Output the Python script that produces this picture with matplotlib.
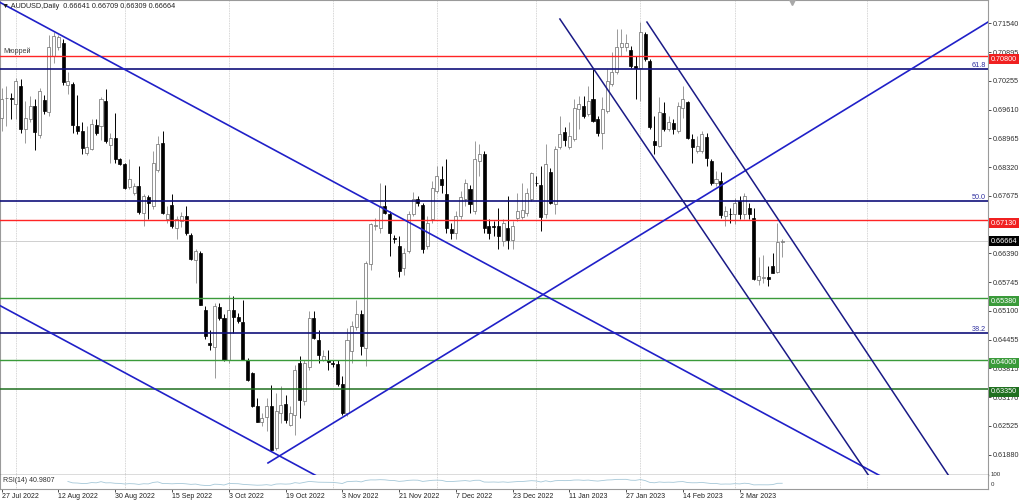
import numpy as np
import pandas as pd
import matplotlib
matplotlib.use("Agg")
import matplotlib.pyplot as plt
import matplotlib.transforms as mtransforms

plt.rcParams['font.family'] = ['Liberation Sans', 'DejaVu Sans']

# --- AUDUSD daily bars (one value per bar) ---
opens = [0.6943, 0.6986, 0.6986, 0.6973, 0.7014, 0.6917, 0.6939, 0.6968, 0.6903, 0.6982,
         0.6956, 0.7081, 0.7100, 0.7111, 0.7017, 0.7018, 0.6924, 0.6912, 0.6863, 0.6873,
         0.6927, 0.6924, 0.6980, 0.6881, 0.6898, 0.6850, 0.6838, 0.6788, 0.6775, 0.6790,
         0.6730, 0.6765, 0.6745, 0.6826, 0.6885, 0.6715, 0.6746, 0.6696, 0.6711, 0.6722,
         0.6681, 0.6625, 0.6640, 0.6513, 0.6438, 0.6430, 0.6519, 0.6493, 0.6401, 0.6511,
         0.6496, 0.6484, 0.6401, 0.6371, 0.6296, 0.6262, 0.6273, 0.6296, 0.6202, 0.6281,
         0.6302, 0.6255, 0.6277, 0.6393, 0.6307, 0.6384, 0.6494, 0.6444, 0.6401, 0.6399,
         0.6393, 0.6391, 0.6347, 0.6281, 0.6420, 0.6474, 0.6502, 0.6427, 0.6614, 0.6700,
         0.6696, 0.6745, 0.6726, 0.6674, 0.6655, 0.6605, 0.6644, 0.6726, 0.6760, 0.6748,
         0.6655, 0.6715, 0.6778, 0.6805, 0.6771, 0.6694, 0.6685, 0.6722, 0.6760, 0.6784,
         0.6734, 0.6846, 0.6861, 0.6700, 0.6700, 0.6700, 0.6666, 0.6696, 0.6668, 0.6719,
         0.6721, 0.6730, 0.6760, 0.6797, 0.6793, 0.6726, 0.6821, 0.6749, 0.6876, 0.6911,
         0.6878, 0.6894, 0.6962, 0.6968, 0.6951, 0.6984, 0.6939, 0.6909, 0.6958, 0.7018,
         0.7044, 0.7100, 0.7100, 0.7095, 0.7059, 0.7053, 0.7130, 0.7070, 0.6891, 0.6879,
         0.6953, 0.6918, 0.6930, 0.6913, 0.6965, 0.6977, 0.6894, 0.6868, 0.6868, 0.6900,
         0.6846, 0.6796, 0.6801, 0.6722, 0.6728, 0.6726, 0.6756, 0.6728, 0.6741, 0.6719,
         0.6580, 0.6583, 0.6585, 0.6610, 0.6597, 0.66641]
highs = [0.7010, 0.7014, 0.6998, 0.7031, 0.7029, 0.6980, 0.6992, 0.6984, 0.7010, 0.6993,
         0.7128, 0.7134, 0.7128, 0.7119, 0.7044, 0.7022, 0.6993, 0.6932, 0.6924, 0.6939,
         0.6939, 0.6988, 0.7007, 0.6909, 0.6954, 0.6853, 0.6842, 0.6850, 0.6797, 0.6835,
         0.6771, 0.6769, 0.6868, 0.6902, 0.6913, 0.6745, 0.6771, 0.6722, 0.6731, 0.6745,
         0.6685, 0.6648, 0.6644, 0.6520, 0.6468, 0.6528, 0.6528, 0.6502, 0.6545, 0.6543,
         0.6505, 0.6535, 0.6404, 0.6374, 0.6315, 0.6281, 0.6315, 0.6345, 0.6326, 0.6341,
         0.6322, 0.6296, 0.6389, 0.6408, 0.6401, 0.6509, 0.6509, 0.6468, 0.6423, 0.6423,
         0.6401, 0.6401, 0.6363, 0.6472, 0.6487, 0.6535, 0.6513, 0.6621, 0.6707, 0.6718,
         0.6797, 0.6793, 0.6733, 0.6679, 0.6678, 0.6650, 0.6734, 0.6776, 0.6767, 0.6752,
         0.6722, 0.6801, 0.6835, 0.6835, 0.6850, 0.6707, 0.6734, 0.6778, 0.6805, 0.6793,
         0.6891, 0.6883, 0.6868, 0.6715, 0.6711, 0.6741, 0.6715, 0.6767, 0.6711, 0.6775,
         0.6797, 0.6786, 0.6820, 0.6812, 0.6835, 0.6883, 0.6831, 0.6880, 0.6947, 0.6921,
         0.6932, 0.6984, 0.6992, 0.6992, 0.7014, 0.7051, 0.6947, 0.6988, 0.7051, 0.7089,
         0.7141, 0.7141, 0.7130, 0.7104, 0.7081, 0.7156, 0.7134, 0.7074, 0.6947, 0.6988,
         0.6977, 0.6947, 0.6939, 0.6977, 0.7014, 0.6980, 0.6906, 0.6902, 0.6913, 0.6909,
         0.6850, 0.6823, 0.6820, 0.6745, 0.6741, 0.6763, 0.6767, 0.6775, 0.6752, 0.6741,
         0.6631, 0.6636, 0.6610, 0.6640, 0.6707, 0.66709]
lows = [0.6913, 0.6924, 0.6939, 0.6939, 0.6909, 0.6885, 0.6932, 0.6870, 0.6897, 0.6950,
        0.6947, 0.7066, 0.7095, 0.7017, 0.6995, 0.6909, 0.6906, 0.6861, 0.6858, 0.6870,
        0.6903, 0.6893, 0.6887, 0.6842, 0.6841, 0.6836, 0.6782, 0.6782, 0.6770, 0.6728,
        0.6700, 0.6715, 0.6739, 0.6820, 0.6726, 0.6706, 0.6696, 0.6670, 0.6698, 0.6681,
        0.6624, 0.6573, 0.6522, 0.6447, 0.6423, 0.6359, 0.6490, 0.6397, 0.6393, 0.6460,
        0.6483, 0.6399, 0.6352, 0.6294, 0.6260, 0.6251, 0.6240, 0.6195, 0.6199, 0.6258,
        0.6258, 0.6251, 0.6232, 0.6270, 0.6300, 0.6378, 0.6447, 0.6393, 0.6397, 0.6378,
        0.6384, 0.6341, 0.6277, 0.6275, 0.6393, 0.6468, 0.6412, 0.6386, 0.6602, 0.6692,
        0.6685, 0.6726, 0.6632, 0.6662, 0.6585, 0.6590, 0.6640, 0.6722, 0.6745, 0.6640,
        0.6648, 0.6707, 0.6775, 0.6775, 0.6685, 0.6670, 0.6670, 0.6715, 0.6745, 0.6730,
        0.6726, 0.6812, 0.6685, 0.6670, 0.6677, 0.6648, 0.6655, 0.6648, 0.6648, 0.6711,
        0.6715, 0.6722, 0.6756, 0.6790, 0.6689, 0.6719, 0.6749, 0.6726, 0.6872, 0.6879,
        0.6872, 0.6891, 0.6917, 0.6943, 0.6947, 0.6932, 0.6902, 0.6872, 0.6954, 0.7014,
        0.7040, 0.7081, 0.7093, 0.7055, 0.6984, 0.6980, 0.7070, 0.6917, 0.6861, 0.6878,
        0.6913, 0.6913, 0.6906, 0.6909, 0.6943, 0.6894, 0.6842, 0.6864, 0.6864, 0.6835,
        0.6793, 0.6790, 0.6719, 0.6700, 0.6707, 0.6704, 0.6715, 0.6715, 0.6715, 0.6580,
        0.6569, 0.6573, 0.6565, 0.6594, 0.6594, 0.66309]
closes = [0.6984, 0.6987, 0.6984, 0.7024, 0.6917, 0.6943, 0.6968, 0.6911, 0.7003, 0.6958,
          0.7102, 0.7126, 0.7123, 0.7022, 0.7025, 0.6926, 0.6912, 0.6874, 0.6876, 0.6928,
          0.6909, 0.6984, 0.6891, 0.6898, 0.6851, 0.6840, 0.6786, 0.6806, 0.6790, 0.6731,
          0.6767, 0.6751, 0.6842, 0.6883, 0.6730, 0.6726, 0.6700, 0.6716, 0.6722, 0.6685,
          0.6627, 0.6644, 0.6524, 0.6453, 0.6433, 0.6520, 0.6494, 0.6401, 0.6513, 0.6496,
          0.6487, 0.6401, 0.6356, 0.6296, 0.6262, 0.6270, 0.6296, 0.6199, 0.6285, 0.6300,
          0.6266, 0.6281, 0.6378, 0.6311, 0.6393, 0.6494, 0.6449, 0.6412, 0.6408, 0.6395,
          0.6392, 0.6347, 0.6281, 0.6445, 0.6476, 0.6502, 0.6431, 0.6617, 0.6705, 0.6702,
          0.6745, 0.6730, 0.6685, 0.6672, 0.6600, 0.6640, 0.6726, 0.6761, 0.6752, 0.6648,
          0.6707, 0.6786, 0.6812, 0.6793, 0.6696, 0.6685, 0.6722, 0.6764, 0.6796, 0.6749,
          0.6850, 0.6861, 0.6696, 0.6685, 0.6698, 0.6677, 0.6706, 0.6668, 0.6701, 0.6734,
          0.6737, 0.6775, 0.6818, 0.6796, 0.6721, 0.6838, 0.6752, 0.6872, 0.6906, 0.6893,
          0.6902, 0.6965, 0.6973, 0.6947, 0.6980, 0.6936, 0.6909, 0.6963, 0.7025, 0.7044,
          0.7100, 0.7111, 0.7110, 0.7059, 0.7053, 0.7135, 0.7075, 0.6921, 0.6881, 0.6956,
          0.6918, 0.6933, 0.6917, 0.6968, 0.6984, 0.6898, 0.6877, 0.6879, 0.6906, 0.6853,
          0.6797, 0.6806, 0.6724, 0.6734, 0.6727, 0.6752, 0.6726, 0.6767, 0.6728, 0.6582,
          0.6588, 0.6586, 0.6582, 0.6595, 0.6664, 0.66664]

# x axis: bar index of each date label, month grid lines
date_ticks = [0, 12, 24, 36, 48, 60, 72, 84, 96, 108, 120, 132, 144, 156]
date_labels = ["27 Jul 2022", "12 Aug 2022", "30 Aug 2022", "15 Sep 2022", "3 Oct 2022",
               "19 Oct 2022", "3 Nov 2022", "21 Nov 2022", "7 Dec 2022", "23 Dec 2022",
               "11 Jan 2023", "27 Jan 2023", "14 Feb 2023", "2 Mar 2023"]
month_grid = [3, 26, 48, 70, 92, 113, 135, 155, 183]

# price scale
price_ticks = [0.71540, 0.70895, 0.70255, 0.69610, 0.68965, 0.68320, 0.67675, 0.66390,
               0.65745, 0.65100, 0.64455, 0.63815, 0.63170, 0.62525, 0.61880]

# horizontal levels
red_levels = [0.70800, 0.67130]
green_levels = [0.65380, 0.64000]
dark_green_levels = [0.63350]
fibo_levels = [0.70514, 0.67558, 0.64604]
fibo_names = ["61.8", "50.0", "38.2"]
last_price = 0.66664

# trend lines as (bar, price) end points
blue_lines = [[(-0.35, 0.72009), (185.7, 0.61405)],
              [(-0.35, 0.65217), (66.3, 0.61418)],
              [(56.3, 0.61693), (208.5, 0.71569)]]
navy_lines = [[(118.0, 0.71637), (183.2, 0.61423)],
              [(136.4, 0.71569), (200.1, 0.61423)]]

# --- figure ---
W, H = 1024, 501
fig = plt.figure(figsize=(W / 100, H / 100), dpi=100)
ax = fig.add_axes([0, 26 / H, 988 / W, 475 / H])
rsi_ax = fig.add_axes([0, 12 / H, 988 / W, 14 / H], sharex=ax)

o = np.array(opens); h = np.array(highs); l = np.array(lows); c = np.array(closes)
x = np.arange(len(o))
up = c >= o
body_low = np.minimum(o, c)
body_h = np.maximum(np.abs(c - o), 0.00007)

for g in month_grid:
    ax.axvline(g, color='#c8c8c8', lw=0.6, ls=(0, (1, 1)), zorder=0)
    rsi_ax.axvline(g, color='#c8c8c8', lw=0.6, ls=(0, (1, 1)), zorder=0)

ax.axhline(last_price, color='#c8c8c8', lw=0.6, zorder=1)

# candles
ax.vlines(x[up], l[up], h[up], color='#8a8a8a', lw=0.6, zorder=2)
ax.vlines(x[~up], l[~up], h[~up], color='black', lw=0.7, zorder=2)
ax.bar(x[up], body_h[up], bottom=body_low[up], width=0.64, color='white',
       edgecolor='#6a6a6a', linewidth=0.5, zorder=3)
ax.bar(x[~up], body_h[~up], bottom=body_low[~up], width=0.64, color='black',
       edgecolor='black', linewidth=0.5, zorder=3)

# horizontal lines
for p in red_levels:
    ax.axhline(p, color='#ff2424', lw=1.0, zorder=4)
for p in green_levels:
    ax.axhline(p, color='#3a9a3a', lw=1.0, zorder=4)
for p in dark_green_levels:
    ax.axhline(p, color='#1f6f1f', lw=1.1, zorder=4)
for p in fibo_levels:
    ax.axhline(p, color='#10107a', lw=1.2, zorder=4)

for (x0, y0), (x1, y1) in blue_lines:
    ax.plot([x0, x1], [y0, y1], color='#2020c8', lw=1.2, zorder=5)
for (x0, y0), (x1, y1) in navy_lines:
    ax.plot([x0, x1], [y0, y1], color='#1a1a86', lw=1.1, zorder=5)

ax.set_xlim(-0.353, 208.5)
ax.set_ylim(0.61423, 0.72063)

# right price axis
ax.yaxis.tick_right()
ax.set_yticks(price_ticks)
ax.set_yticklabels([f"{p:.5f}" for p in price_ticks])
ax.tick_params(axis='y', length=2, width=0.6, pad=1.5, labelsize=5.2,
               colors='#303030', labelcolor='#303030')
ax.tick_params(axis='x', bottom=False, labelbottom=False)
for s in ax.spines.values():
    s.set_color('#9a9a9a')
    s.set_linewidth(0.8)
ax.spines['bottom'].set_color('#505050')
ax.spines['bottom'].set_linewidth(1.0)

trans = mtransforms.blended_transform_factory(ax.transAxes, ax.transData)
box_x = 991 / 988
box_shift = 0.00065


def price_box(p, txt, fc, shift):
    ax.text(box_x, p - shift, txt, transform=trans, ha='left', va='center',
            fontsize=5.2, color='white', clip_on=False, zorder=10,
            bbox=dict(boxstyle='square,pad=0.22', fc=fc, ec='none'))


for p in red_levels:
    price_box(p, f"{p:.5f}", '#f02020', box_shift)
for p in green_levels:
    price_box(p, f"{p:.5f}", '#3a9a3a', box_shift)
for p in dark_green_levels:
    price_box(p, f"{p:.5f}", '#1f6f1f', box_shift)
price_box(last_price, f"{last_price:.5f}", '#000000', 0)

for p, name in zip(fibo_levels, fibo_names):
    ax.text(986 / 988, p + 0.0001, name, transform=trans, ha='right', va='bottom',
            fontsize=5.2, color='#3030a0', zorder=6)

ax.text(3 / 988, red_levels[0] + 0.0003, "Мюррей", transform=trans, ha='left',
        va='bottom', fontsize=5.2, color='#404040', zorder=6)
ax.text(2 / 988, 1 - 6 / 475, "▼ AUDUSD,Daily  0.66641 0.66709 0.66309 0.66664",
        transform=ax.transAxes, ha='left', va='center', fontsize=5.2, color='#202020',
        zorder=6)
ax.plot([167.0], [1 - 2 / 475], marker='v', ms=4, color='#a8a8a8',
        transform=mtransforms.blended_transform_factory(ax.transData, ax.transAxes),
        clip_on=False, zorder=6)

# RSI(14) sub window
cs = pd.Series(c)
d = cs.diff()
gain = d.clip(lower=0).ewm(alpha=1 / 14, adjust=False, min_periods=14).mean()
loss = (-d.clip(upper=0)).ewm(alpha=1 / 14, adjust=False, min_periods=14).mean()
rsi = 100 - 100 / (1 + gain / loss)
rsi_ax.plot(x, rsi.values, color='#a6c8d8', lw=0.6)
rsi_ax.set_ylim(0, 100)
rsi_ax.set_yticks([])
rsi_ax.text(3 / 988, 0.62, "RSI(14) 40.9807", transform=rsi_ax.transAxes, ha='left',
            va='center', fontsize=5.0, color='#303030')
rsi_ax.text(991 / 988, 1.02, "100", transform=rsi_ax.transAxes, ha='left', va='center',
            fontsize=4.4, color='#303030', clip_on=False)
rsi_ax.text(991 / 988, 0.30, "0", transform=rsi_ax.transAxes, ha='left', va='center',
            fontsize=4.4, color='#303030', clip_on=False)
for s in rsi_ax.spines.values():
    s.set_color('#9a9a9a')
    s.set_linewidth(0.8)
rsi_ax.spines['top'].set_visible(False)

rsi_ax.set_xticks(date_ticks)
rsi_ax.set_xticklabels(date_labels, ha='left')
rsi_ax.tick_params(axis='x', length=2, width=0.6, pad=1.0, labelsize=5.0,
                   colors='#303030', labelcolor='#202020')

fig.savefig("out.png", dpi=100, facecolor='white')
